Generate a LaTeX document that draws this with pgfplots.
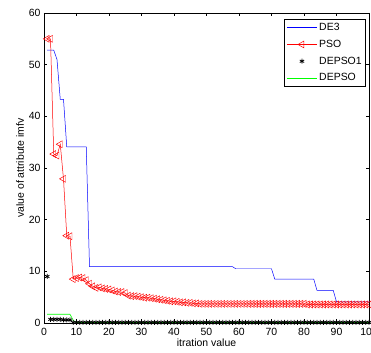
\documentclass[border=0pt]{standalone}
\usepackage{pgfplots}
\pgfplotsset{compat=1.18}
\usepackage{fontspec}
\setmainfont{Liberation Sans}
\definecolor{mblue}{rgb}{0,0,1}
\definecolor{mred}{rgb}{1,0,0}
\definecolor{mgreen}{rgb}{0,1,0}
\begin{document}
\begin{tikzpicture}
\begin{axis}[
  name=ax,
  scale only axis,
  width=325bp, height=310bp,
  xmin=0, xmax=100, ymin=0, ymax=60,
  xtick={0,10,...,100}, ytick={0,10,...,60},
  tick align=inside,
  major tick length=3.5bp,
  axis line style={line width=1pt},
  every tick/.style={black, line width=0.5pt},
  /pgf/number format/assume math mode=true,
  font=\fontsize{10.5}{12}\selectfont,
  tick label style={font=\fontsize{10.5}{12}\selectfont},
  xticklabel style={yshift=-2bp},
  xlabel={itration value},
  ylabel={value of attribute imfv},
  xlabel style={yshift=4bp},
  ylabel style={yshift=-2bp},
  legend cell align=left,
  legend style={at={(0.991,0.981)}, anchor=north east, draw=black, line width=0.8pt,
    font=\fontsize{10.5}{12}\selectfont, row sep=4bp, inner sep=2bp},
  legend image code/.code={\draw[mark repeat=2,mark phase=2,#1] plot coordinates {(0bp,0bp) (15bp,0bp) (30bp,0bp)};},
]
\addplot[mblue, line width=0.5pt] coordinates {
(1,52.8)(3,52.8)(4,51)(5,43.3)(6,43.3)(7,34.1)(13,34.1)(14,10.9)(58,10.9)(59,10.5)(70,10.5)(71,8.5)(83,8.5)(84,6.3)(89,6.3)(90,4.1)(100,4.1)
};
\addlegendentry{DE3}
\addplot[mred, line width=0.5pt, mark=triangle, mark size=4bp, mark options={rotate=90, line width=0.5pt, fill=none}] coordinates {
(1,55)(2,55)(3,32.7)(4,32.4)(5,34.6)(6,27.9)(7,16.9)(8,16.8)(9,8.5)(10,8.7)
(11,8.8)(12,8.7)(13,8.3)(14,7.6)(15,7.1)(16,6.8)(17,6.9)(18,6.7)(19,6.6)(20,6.5)
(21,6.3)(22,6.1)(23,6.0)(24,6.0)(25,5.8)(26,5.3)(27,5.2)(28,5.2)(29,5.1)(30,5.0)
(31,4.9)(32,4.9)(33,4.8)(34,4.7)(35,4.6)(36,4.5)(37,4.4)(38,4.3)(39,4.2)(40,4.2)
(41,4.1)(42,4.0)(43,4.0)(44,3.9)(45,3.9)(46,3.8)(47,3.8)(48,3.7)(49,3.7)(50,3.7)
(51,3.7)(52,3.7)(53,3.7)(54,3.7)(55,3.7)(56,3.7)(57,3.7)(58,3.7)(59,3.7)(60,3.7)
(61,3.7)(62,3.7)(63,3.7)(64,3.7)(65,3.7)(66,3.7)(67,3.7)(68,3.7)(69,3.7)(70,3.7)
(71,3.7)(72,3.7)(73,3.7)(74,3.7)(75,3.7)(76,3.7)(77,3.7)(78,3.7)(79,3.7)(80,3.7)
(81,3.6)(82,3.6)(83,3.6)(84,3.6)(85,3.6)(86,3.6)(87,3.6)(88,3.6)(89,3.6)(90,3.6)
(91,3.6)(92,3.6)(93,3.6)(94,3.6)(95,3.6)(96,3.6)(97,3.6)(98,3.6)(99,3.6)(100,3.6)
};
\addlegendentry{PSO}
\addplot[black, only marks, mark=asterisk, mark size=2.5bp, mark options={line width=0.8pt}] coordinates {
(1,9.0)(2,0.7)(3,0.7)(4,0.7)(5,0.7)(6,0.6)(7,0.6)(8,0.6)(9,0.1)(10,0.1)
(11,0.1)(12,0.1)(13,0.1)(14,0.1)(15,0.1)(16,0.1)(17,0.1)(18,0.1)(19,0.1)(20,0.1)
(21,0.1)(22,0.1)(23,0.1)(24,0.1)(25,0.1)(26,0.1)(27,0.1)(28,0.1)(29,0.1)(30,0.1)
(31,0.1)(32,0.1)(33,0.1)(34,0.1)(35,0.1)(36,0.1)(37,0.1)(38,0.1)(39,0.1)(40,0.1)
(41,0.1)(42,0.1)(43,0.1)(44,0.1)(45,0.1)(46,0.1)(47,0.1)(48,0.1)(49,0.1)(50,0.1)
(51,0.1)(52,0.1)(53,0.1)(54,0.1)(55,0.1)(56,0.1)(57,0.1)(58,0.1)(59,0.1)(60,0.1)
(61,0.1)(62,0.1)(63,0.1)(64,0.1)(65,0.1)(66,0.1)(67,0.1)(68,0.1)(69,0.1)(70,0.1)
(71,0.1)(72,0.1)(73,0.1)(74,0.1)(75,0.1)(76,0.1)(77,0.1)(78,0.1)(79,0.1)(80,0.1)
(81,0.1)(82,0.1)(83,0.1)(84,0.1)(85,0.1)(86,0.1)(87,0.1)(88,0.1)(89,0.1)(90,0.1)
(91,0.1)(92,0.1)(93,0.1)(94,0.1)(95,0.1)(96,0.1)(97,0.1)(98,0.1)(99,0.1)(100,0.1)
};
\addlegendentry{DEPSO1}
\addplot[mgreen, line width=0.6pt] coordinates {
(1,1.7)(8,1.7)(9,0.5)(10,0.1)(100,0.1)
};
\addlegendentry{DEPSO}
\end{axis}
\pgfresetboundingbox
\path ([shift={(-44bp,-30bp)}]ax.south west) rectangle ([shift={(2bp,13bp)}]ax.north east);
\end{tikzpicture}
\end{document}
